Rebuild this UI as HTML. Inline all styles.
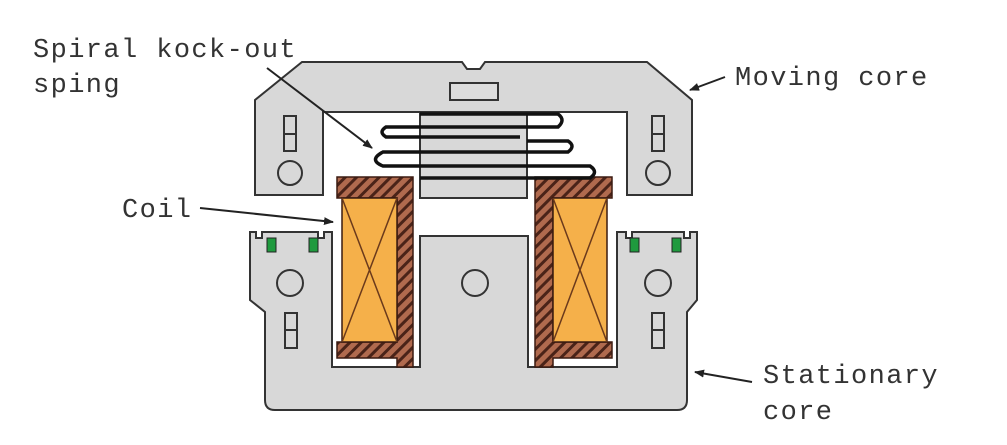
<!DOCTYPE html>
<html><head><style>
body{margin:0;background:#fff;}
svg{display:block;}
text{font-family:"Liberation Mono",monospace;font-size:27px;letter-spacing:1.4px;fill:#333;}
</style></head><body>
<svg width="1007" height="445" viewBox="0 0 1007 445" xmlns="http://www.w3.org/2000/svg">
<defs>
<pattern id="h" width="8" height="8" patternUnits="userSpaceOnUse" patternTransform="rotate(45)">
<rect width="8" height="8" fill="#b06a4e"/><rect width="3" height="8" fill="#4a2318"/>
</pattern>
<marker id="a" markerWidth="10" markerHeight="8" refX="9" refY="4" orient="auto" markerUnits="userSpaceOnUse"><path d="M0,0 L10,4 L0,8 z" fill="#222"/></marker>
</defs>
<g stroke="#333" stroke-width="2" fill="#d8d8d8">
<path d="M302,62 L462,62 L467,69 L480,69 L485,62 L647,62 L692,100 L692,195 L627,195 L627,112 L323,112 L323,195 L255,195 L255,100 Z"/>
<rect x="450" y="83" width="48" height="17" fill="#ddd"/>
<rect x="284" y="116" width="12" height="35"/><line x1="284" y1="134" x2="296" y2="134"/>
<circle cx="290" cy="173" r="12"/>
<rect x="652" y="116" width="12" height="35"/><line x1="652" y1="134" x2="664" y2="134"/>
<circle cx="658" cy="173" r="12"/>
<rect x="420" y="112" width="107" height="86"/>
<path d="M250,232 L256,232 L256,238 L262,238 L262,232 L318,232 L318,238 L324,238 L324,232 L332,232 L332,367 L420,367 L420,236 L528,236 L528,367 L617,367 L617,232 L626,232 L626,238 L632,238 L632,232 L684,232 L684,238 L690,238 L690,232 L697,232 L697,300 L687,312 L687,400 Q687,410 677,410 L275,410 Q265,410 265,400 L265,312 L250,300 Z"/>
<circle cx="290" cy="283" r="13"/><rect x="285" y="313" width="12" height="35"/><line x1="285" y1="330" x2="297" y2="330"/>
<circle cx="475" cy="283" r="13"/>
<circle cx="658" cy="283" r="13"/><rect x="652" y="313" width="12" height="35"/><line x1="652" y1="330" x2="664" y2="330"/>
</g>
<g fill="#1f9a3e" stroke="#222" stroke-width="1">
<rect x="267" y="238" width="9" height="14"/><rect x="309" y="238" width="9" height="14"/>
<rect x="630" y="238" width="9" height="14"/><rect x="672" y="238" width="9" height="14"/>
</g>
<g stroke="#3a1a10" stroke-width="1.5">
<path d="M337,177 L413,177 L413,367 L397,367 L397,358 L337,358 L337,342 L397,342 L397,198 L337,198 Z" fill="url(#h)"/>
<rect x="342" y="198" width="55" height="144" fill="#f5b04a"/>
<path d="M342,198 L397,342 M397,198 L342,342" fill="none" stroke="#6b3a1c"/>
<path d="M612,177 L535,177 L535,367 L553,367 L553,358 L612,358 L612,342 L553,342 L553,198 L612,198 Z" fill="url(#h)"/>
<rect x="553" y="198" width="54" height="144" fill="#f5b04a"/>
<path d="M553,198 L607,342 M607,198 L553,342" fill="none" stroke="#6b3a1c"/>
</g>
<path d="M420,114 L558,114 Q566,120 558,127 L386,127 Q378,132 386,137 L520,137 M527,141 L568,141 Q576,146 568,152 L383,152 Q368,160 383,166 L590,166 Q599,172 590,178 L420,178" fill="none" stroke="#111" stroke-width="3.5"/>
<g stroke="#222" stroke-width="2" fill="none">
<line x1="267" y1="68" x2="372" y2="148" marker-end="url(#a)"/>
<line x1="200" y1="208" x2="333" y2="222" marker-end="url(#a)"/>
<line x1="725" y1="77" x2="690" y2="90" marker-end="url(#a)"/>
<line x1="752" y1="382" x2="695" y2="372" marker-end="url(#a)"/>
</g>
<text x="33" y="57">Spiral kock-out</text>
<text x="33" y="92">sping</text>
<text x="122" y="217">Coil</text>
<text x="735" y="85">Moving core</text>
<text x="763" y="383">Stationary</text>
<text x="763" y="419">core</text>
</svg>
</body></html>
